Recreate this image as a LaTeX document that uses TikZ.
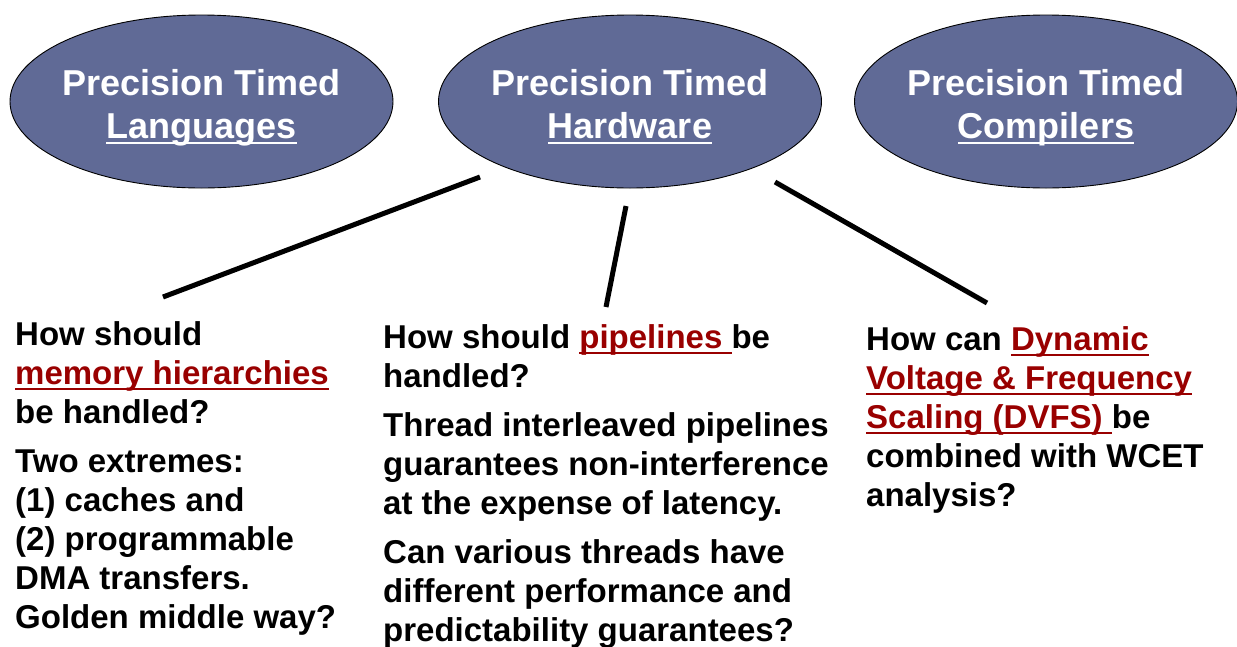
\documentclass[tikz,border=0pt]{standalone}
\usepackage{fontspec}
\setmainfont{Liberation Sans}
\usetikzlibrary{shapes.geometric}

\definecolor{ellfill}{RGB}{96,106,150}
\definecolor{hred}{RGB}{153,0,0}

% underlined words: red in the question texts, white inside the ellipses
\newcommand{\redul}[1]{\leavevmode{\color{hred}\setbox0\hbox{#1}\rlap{\rule[-6.3pt]{\wd0}{2.6pt}}\box0}}
\newcommand{\whiteul}[1]{\leavevmode\setbox0\hbox{#1}\rlap{\rule[-6pt]{\wd0}{2pt}}\box0}

\tikzset{
  topic/.style={ellipse, draw=black, line width=0.9pt, fill=ellfill,
                minimum width=383pt, minimum height=173pt, inner sep=0pt},
  topictext/.style={anchor=base, inner sep=0pt, text=white,
                font=\fontsize{36}{43}\selectfont\bfseries},
  question/.style={anchor=base west, inner sep=0pt,
                font=\fontsize{33}{39}\selectfont\bfseries},
  branch/.style={line width=5pt, draw=black},
}

\begin{document}
\begin{tikzpicture}[x=1pt, y=-1pt]
\useasboundingbox (0,0) rectangle (1237,646);

% the three research areas
\node[topic] (lang) at (201.5,101.5) {};
\node[topic] (hw)   at (630,101.5) {};
\node[topic] (comp) at (1046,101.5) {};

\node[topictext] (langtxt) at (201.5,95) {\parbox[t]{370pt}{\centering Precision Timed\\ \whiteul{Languages}}};
\node[topictext] (hwtxt)   at (630,95)   {\parbox[t]{370pt}{\centering Precision Timed\\ \whiteul{Hardware}}};
\node[topictext] (comptxt) at (1046,95)  {\parbox[t]{370pt}{\centering Precision Timed\\ \whiteul{Compilers}}};

% open questions under the hardware topic
\node[question] (mem) at (15,345) {\parbox[t]{345pt}{\raggedright
  How should\\
  \redul{memory hierarchies}\\
  be handled?\\[10pt]
  Two extremes:\\
  (1) caches and\\
  (2) programmable\\
  DMA transfers.\\
  Golden middle way?}};

\node[question] (pipe) at (383,348) {\parbox[t]{470pt}{\raggedright
  How should \redul{pipelines }be\\
  handled?\\[10pt]
  Thread interleaved pipelines\\
  guarantees non-interference\\
  at the expense of latency.\\[10pt]
  Can various threads have\\
  different performance and\\
  predictability guarantees?}};

\node[question] (dvfs) at (866,350) {\parbox[t]{370pt}{\raggedright
  How can \redul{Dynamic}\\
  \redul{Voltage \& Frequency}\\
  \redul{Scaling (DVFS) }be\\
  combined with WCET\\
  analysis?}};

% branches from the hardware topic to the questions
\coordinate (hwL) at (480,177);
\coordinate (hwM) at (626,206);
\coordinate (hwR) at (775,182);
\coordinate (memtop)  at (163,297);
\coordinate (pipetop) at (606,307);
\coordinate (dvfstop) at (987,303);

\draw[branch] (hwL) -- (memtop);
\draw[branch] (hwM) -- (pipetop);
\draw[branch] (hwR) -- (dvfstop);
\end{tikzpicture}
\end{document}
